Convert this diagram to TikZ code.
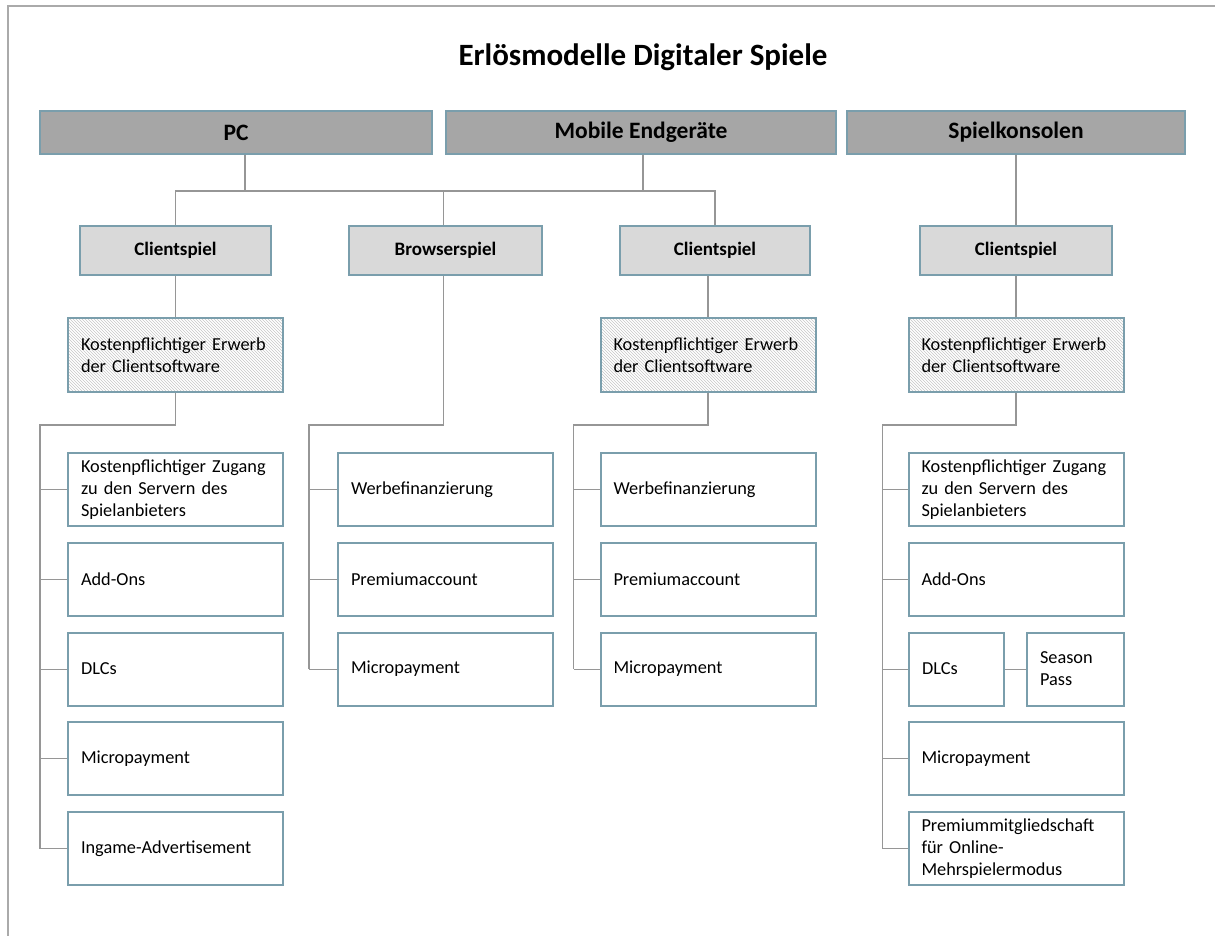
\documentclass[tikz,border=0pt]{standalone}
\usepackage{fontspec}
\setmainfont{Carlito}
\usetikzlibrary{patterns}

\definecolor{boxblue}{RGB}{122,158,172}
\definecolor{topgray}{RGB}{166,166,166}
\definecolor{midgray}{RGB}{217,217,217}
\definecolor{linegray}{RGB}{150,150,150}
\definecolor{framegray}{RGB}{170,170,170}

\tikzset{
  platform/.style={draw=boxblue, line width=2pt, fill=topgray, minimum height=43,
    font=\bfseries\fontsize{23.5}{27}\selectfont},
  gametype/.style={draw=boxblue, line width=2pt, fill=midgray, minimum height=49,
    font=\bfseries\fontsize{19}{22}\selectfont},
  purchase/.style={draw=boxblue, line width=2pt, pattern=north west lines,
    pattern color=gray!45, text width=189, inner xsep=13, align=left,
    minimum height=74, font=\fontsize{18.3}{22}\selectfont},
  revenue/.style={draw=boxblue, line width=2pt, fill=white, text width=189,
    inner xsep=13, align=left, minimum height=73, font=\fontsize{18.3}{22}\selectfont},
  link/.style={draw=linegray, line width=1.2pt}
}

\begin{document}
\begin{tikzpicture}[x=1pt, y=-1pt]
  \useasboundingbox (0,0) rectangle (1215,936);
  \draw[framegray, line width=2pt] (8,940) -- (8,6) -- (1220,6);

  \node[font=\bfseries\fontsize{31}{36}\selectfont] (title) at (643,57) {Erlösmodelle Digitaler Spiele};

  % platforms
  \node[platform, minimum width=392] (pc) at (236,132.5) {PC};
  \node[platform, minimum width=390] (mob) at (641,132.5) {Mobile Endgeräte};
  \node[platform, minimum width=338] (con) at (1016,132.5) {Spielkonsolen};

  % game types
  \node[gametype, minimum width=191] (cs1) at (175.5,250.5) {Clientspiel};
  \node[gametype, minimum width=193] (bs) at (445.5,250.5) {Browserspiel};
  \node[gametype, minimum width=190] (cs2) at (715,250.5) {Clientspiel};
  \node[gametype, minimum width=192] (cs3) at (1016,250.5) {Clientspiel};

  \draw[link] ([xshift=9pt]pc.south) -- ++(0,36) -| (cs1.north);
  \draw[link] ([xshift=9pt]pc.south) -- ++(0,36) -| ([xshift=-2pt]bs.north);
  \draw[link] ([xshift=2pt]mob.south) -- ++(0,36) -| ([xshift=-2pt]bs.north);
  \draw[link] ([xshift=2pt]mob.south) -- ++(0,36) -| (cs2.north);
  \draw[link] (con.south) -- (cs3.north);

  % purchase of client software
  \node[purchase] (buy1) at (175.5,355) {Kostenpflichtiger Erwerb\\der Clientsoftware};
  \node[purchase] (buy2) at (708,355) {Kostenpflichtiger Erwerb\\der Clientsoftware};
  \node[purchase] (buy3) at (1016,355) {Kostenpflichtiger Erwerb\\der Clientsoftware};

  \draw[link] (cs1.south) -- (buy1.north);
  \draw[link] (cs2.south -| buy2.north) -- (buy2.north);
  \draw[link] (cs3.south) -- (buy3.north);

  % PC client game
  \foreach \txt [count=\i] in {{Kostenpflichtiger Zugang\\zu den Servern des\\Spielanbieters}, Add-Ons, DLCs, Micropayment, Ingame-Advertisement} {
    \node[revenue] (pc\i) at (175.5,{400+89.7*\i}) {\txt};
    \draw[link] (pc\i.west) -- ++(-27,0);
  }
  \draw[link] (buy1.south) -- ++(0,32) -| ([xshift=-27pt]pc5.west);

  % browser game
  \foreach \txt [count=\i] in {Werbefinanzierung, Premiumaccount, Micropayment} {
    \node[revenue] (br\i) at (445.5,{400+89.7*\i}) {\txt};
    \draw[link] (br\i.west) -- ++(-28,0);
  }
  \draw[link] ([xshift=-2pt]bs.south) -- ++(0,149) -| ([xshift=-28pt]br3.west);

  % mobile client game
  \foreach \txt [count=\i] in {Werbefinanzierung, Premiumaccount, Micropayment} {
    \node[revenue] (mo\i) at (708,{400+89.7*\i}) {\txt};
    \draw[link] (mo\i.west) -- ++(-26,0);
  }
  \draw[link] (buy2.south) -- ++(0,32) -| ([xshift=-26pt]mo3.west);

  % console client game
  \node[revenue] (co1) at (1016,489.7) {Kostenpflichtiger Zugang\\zu den Servern des\\Spielanbieters};
  \node[revenue] (co2) at (1016,579.4) {Add-Ons};
  \node[revenue, text width=69] (co3) at (956.5,669.1) {DLCs};
  \node[revenue, text width=71] (sp) at (1075.5,669.1) {Season\\Pass};
  \node[revenue] (co4) at (1016,758.8) {Micropayment};
  \node[revenue] (co5) at (1016,848.5) {Premiummitgliedschaft\\für Online-\\Mehrspielermodus};
  \foreach \i in {1,...,5} {
    \draw[link] (co\i.west) -- ++(-25,0);
  }
  \draw[link] (co3.east) -- (sp.west);
  \draw[link] (buy3.south) -- ++(0,32) -| ([xshift=-25pt]co5.west);
\end{tikzpicture}
\end{document}
